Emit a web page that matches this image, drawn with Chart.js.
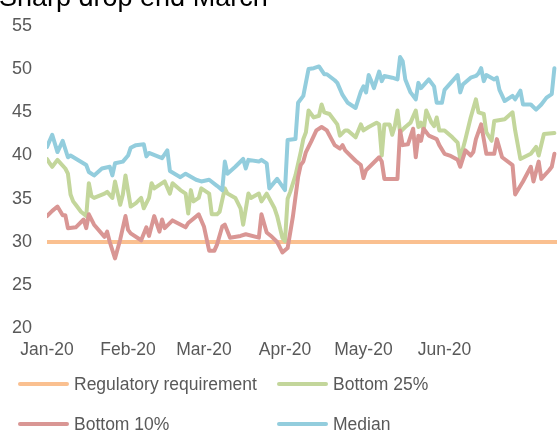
<!DOCTYPE html>
<html>
<head>
<meta charset="utf-8">
<script src="https://cdn.jsdelivr.net/npm/chart.js@4/dist/chart.umd.min.js"></script>
<style>
  html, body { margin: 0; padding: 0; background: #ffffff; overflow: hidden; }
  canvas { display: block; }
</style>
</head>
<body>
<canvas id="chart" width="558" height="432"></canvas>
<script>
// Title and axis labels
const chartTitle = 'Sharp drop end March';
const monthStarts = [0, 31, 60, 91, 121, 152];          // day offsets from 1 Jan 2020
const monthLabels = ['Jan-20', 'Feb-20', 'Mar-20', 'Apr-20', 'May-20', 'Jun-20'];
const yTicks = [20, 25, 30, 35, 40, 45, 50, 55];

// Series as [day offset, percent]
const regulatory = [[0, 30], [195, 30]];

const bottom25 = [
  [0,39.6],[1,39.1],[2,38.7],[4,39.5],[7,38.5],[8,37.9],[9,35.5],[10,34.7],[11,34.3],[13,33.5],
  [15,33.0],[16,36.8],[17,35.3],[18,35.1],[22,35.6],[23,35.8],[25,35.1],[26,37.0],[28,34.3],[29,35.5],
  [30,37.7],[32,34.1],[34,34.5],[36,35.1],[37,33.9],[39,35.1],[40,36.8],[41,36.2],[44,36.8],[45,37.0],
  [47,35.6],[48,36.8],[51,36.0],[53,35.6],[54,33.3],[55,36.0],[56,34.7],[57,34.9],[58,35.1],[59,36.2],
  [62,35.6],[63,33.2],[65,33.2],[66,33.5],[68,36.2],[69,35.6],[72,35.1],[74,33.9],[75,32.0],[77,35.6],
  [78,35.1],[81,35.6],[82,34.7],[84,35.6],[87,33.9],[88,33.0],[90,30.5],[91,30.1],[92,35.0],[93,35.8],
  [95,37.7],[97,40.4],[98,41.9],[99,42.7],[100,45.2],[101,44.8],[102,44.4],[104,44.6],[105,45.9],[106,45.0],
  [108,44.8],[111,43.6],[112,42.3],[114,42.9],[115,42.9],[118,42.1],[120,43.6],[121,42.9],[123,43.3],[126,43.8],
  [127,43.6],[128,40.0],[129,43.6],[131,43.6],[132,42.4],[133,43.4],[134,45.2],[135,42.7],[137,43.3],[139,43.8],
  [141,45.2],[142,43.3],[143,43.8],[144,42.9],[145,45.2],[147,43.8],[148,43.4],[149,44.4],[150,42.9],[152,42.9],
  [155,42.1],[157,41.5],[158,39.6],[160,41.9],[162,44.4],[164,46.5],[165,45.0],[167,44.8],[168,42.7],[170,41.7],
  [171,44.0],[175,44.2],[178,45.0],[179,42.9],[181,39.6],[185,40.2],[187,41.0],[188,40.0],[190,42.5],[194,42.6]
];

const bottom10 = [
  [0,33.0],[2,33.6],[4,34.1],[6,33.1],[7,33.1],[8,31.6],[11,31.7],[14,32.6],[15,31.6],[16,33.2],
  [18,32.0],[22,30.6],[23,31.2],[24,30.0],[26,28.1],[28,30.3],[30,33.0],[31,31.4],[32,31.0],[36,30.2],
  [38,31.7],[39,30.7],[41,33.0],[43,31.2],[44,32.6],[45,31.6],[48,32.5],[53,31.7],[54,32.2],[58,33.2],
  [60,31.8],[62,29.0],[64,29.0],[65,29.7],[67,31.8],[68,32.0],[70,30.5],[74,30.7],[76,30.9],[81,30.5],
  [82,33.2],[84,31.1],[86,30.6],[88,30.0],[89,29.4],[90,28.8],[92,29.3],[94,32.9],[96,37.5],[97,38.9],
  [98,39.3],[99,40.4],[101,41.6],[103,42.9],[105,43.3],[107,42.9],[110,41.2],[112,40.8],[113,41.2],[114,40.6],
  [118,39.4],[120,38.9],[121,37.4],[122,38.3],[127,39.8],[128,39.3],[129,37.3],[134,37.3],[135,42.9],[136,41.2],
  [138,41.3],[140,43.1],[141,39.8],[142,42.3],[143,41.7],[144,43.1],[146,42.3],[149,41.9],[150,41.2],[152,40.2],
  [154,40.0],[157,39.5],[158,38.7],[160,40.6],[162,40.0],[163,40.4],[164,41.9],[166,43.6],[168,40.2],[171,40.2],
  [172,41.9],[174,39.8],[178,38.9],[179,35.5],[182,37.0],[185,38.7],[186,37.0],[188,39.3],[189,37.3],[192,38.3],
  [193,38.7],[194,40.2]
];

const median = [
  [0,41.0],[2,42.4],[4,40.4],[6,41.7],[8,39.8],[9,40.0],[15,38.9],[16,38.1],[18,37.7],[21,38.5],
  [24,38.7],[25,37.7],[26,39.1],[29,39.3],[31,40.0],[32,40.9],[34,41.2],[37,41.3],[38,39.9],[39,40.3],
  [44,39.7],[46,40.6],[47,38.2],[51,37.5],[53,37.9],[57,37.2],[59,37.0],[62,37.2],[65,36.5],[67,36.0],
  [68,39.3],[69,37.9],[72,38.7],[75,39.6],[76,38.5],[77,39.5],[81,39.3],[82,39.5],[84,39.1],[85,36.2],
  [88,37.3],[91,36.0],[92,41.8],[95,41.9],[96,46.1],[98,46.9],[100,50.0],[102,50.1],[104,50.3],[106,49.4],
  [107,49.4],[110,48.7],[111,48.4],[113,47.0],[115,46.1],[118,45.5],[120,47.4],[121,48.0],[122,47.3],[123,49.3],
  [124,48.6],[125,47.8],[127,49.7],[128,48.6],[129,49.2],[132,49.0],[134,48.8],[135,51.4],[136,50.9],[137,48.8],
  [139,47.3],[141,46.5],[142,48.4],[143,47.8],[146,48.8],[148,48.0],[149,46.1],[151,46.1],[152,47.6],[157,49.3],
  [158,47.3],[159,48.2],[162,49.0],[164,49.2],[165,49.5],[166,50.1],[167,48.6],[168,49.3],[171,48.8],[172,49.0],
  [173,47.6],[175,46.3],[178,46.9],[179,46.5],[181,47.5],[182,45.9],[185,45.9],[187,45.3],[189,45.9],[191,46.7],
  [193,47.1],[194,50.1]
];

const seriesNames = ['Regulatory requirement', 'Bottom 25%', 'Bottom 10%', 'Median'];
const seriesColors = ['#FAC090', '#C3D69B', '#D99694', '#93CDDD'];
const seriesData = [regulatory, bottom25, bottom10, median];

const FONT = "'Liberation Sans', Arial, sans-serif";
const TEXT_GREY = '#595959';

// Heading sits partly above the top edge of the canvas
const headingPlugin = {
  id: 'heading',
  afterDraw(chart) {
    const ctx = chart.ctx;
    ctx.save();
    ctx.font = '27px ' + FONT;
    ctx.fillStyle = '#000000';
    ctx.textAlign = 'left';
    ctx.textBaseline = 'alphabetic';
    ctx.fillText(chartTitle, -1, 6);
    ctx.restore();
  }
};

// Two-column legend under the axis
const gridLegendPlugin = {
  id: 'gridLegend',
  afterDraw(chart) {
    const ctx = chart.ctx;
    const cols = [18, 277];
    const rows = [384, 424];
    ctx.save();
    ctx.font = '17.5px ' + FONT;
    ctx.textBaseline = 'middle';
    ctx.textAlign = 'left';
    chart.data.datasets.forEach((ds, i) => {
      const x = cols[i % 2];
      const y = rows[Math.floor(i / 2)];
      ctx.strokeStyle = ds.borderColor;
      ctx.lineWidth = 4;
      ctx.lineCap = 'round';
      ctx.beginPath();
      ctx.moveTo(x + 2, y);
      ctx.lineTo(x + 49, y);
      ctx.stroke();
      ctx.fillStyle = TEXT_GREY;
      ctx.fillText(ds.label, x + 56, y + 1);
    });
    ctx.restore();
  }
};

const datasets = seriesData.map((pts, i) => ({
  label: seriesNames[i],
  data: pts.map(p => ({ x: p[0], y: p[1] })),
  borderColor: seriesColors[i],
  backgroundColor: seriesColors[i],
  borderWidth: 4,
  pointRadius: 0,
  tension: 0,
  borderJoinStyle: 'round',
  borderCapStyle: 'round',
  fill: false,
  order: seriesData.length - i
}));

new Chart(document.getElementById('chart'), {
  type: 'line',
  data: { datasets },
  plugins: [headingPlugin, gridLegendPlugin],
  options: {
    responsive: false,
    animation: false,
    devicePixelRatio: 1,
    layout: { padding: { left: 0, right: 1, top: 22, bottom: 0 } },
    plugins: {
      legend: { display: false },
      title: { display: false },
      tooltip: { enabled: false }
    },
    scales: {
      x: {
        type: 'linear',
        min: 0,
        max: 195,
        grid: { display: false, drawTicks: false },
        border: { display: false },
        afterBuildTicks(scale) {
          scale.ticks = monthStarts.map(v => ({ value: v }));
        },
        afterFit(scale) { scale.height = 103.5; },
        ticks: {
          autoSkip: false,
          maxRotation: 0,
          padding: 11,
          color: TEXT_GREY,
          font: { family: FONT, size: 17.5 },
          callback(value) {
            const idx = monthStarts.indexOf(value);
            return idx >= 0 ? monthLabels[idx] : '';
          }
        }
      },
      y: {
        min: 20,
        max: 55,
        grid: { display: false, drawTicks: false },
        border: { display: false },
        afterBuildTicks(scale) {
          scale.ticks = yTicks.map(v => ({ value: v }));
        },
        afterFit(scale) { scale.width = 47; },
        ticks: {
          padding: 15,
          color: TEXT_GREY,
          font: { family: FONT, size: 18 }
        }
      }
    }
  }
});
</script>
</body>
</html>
